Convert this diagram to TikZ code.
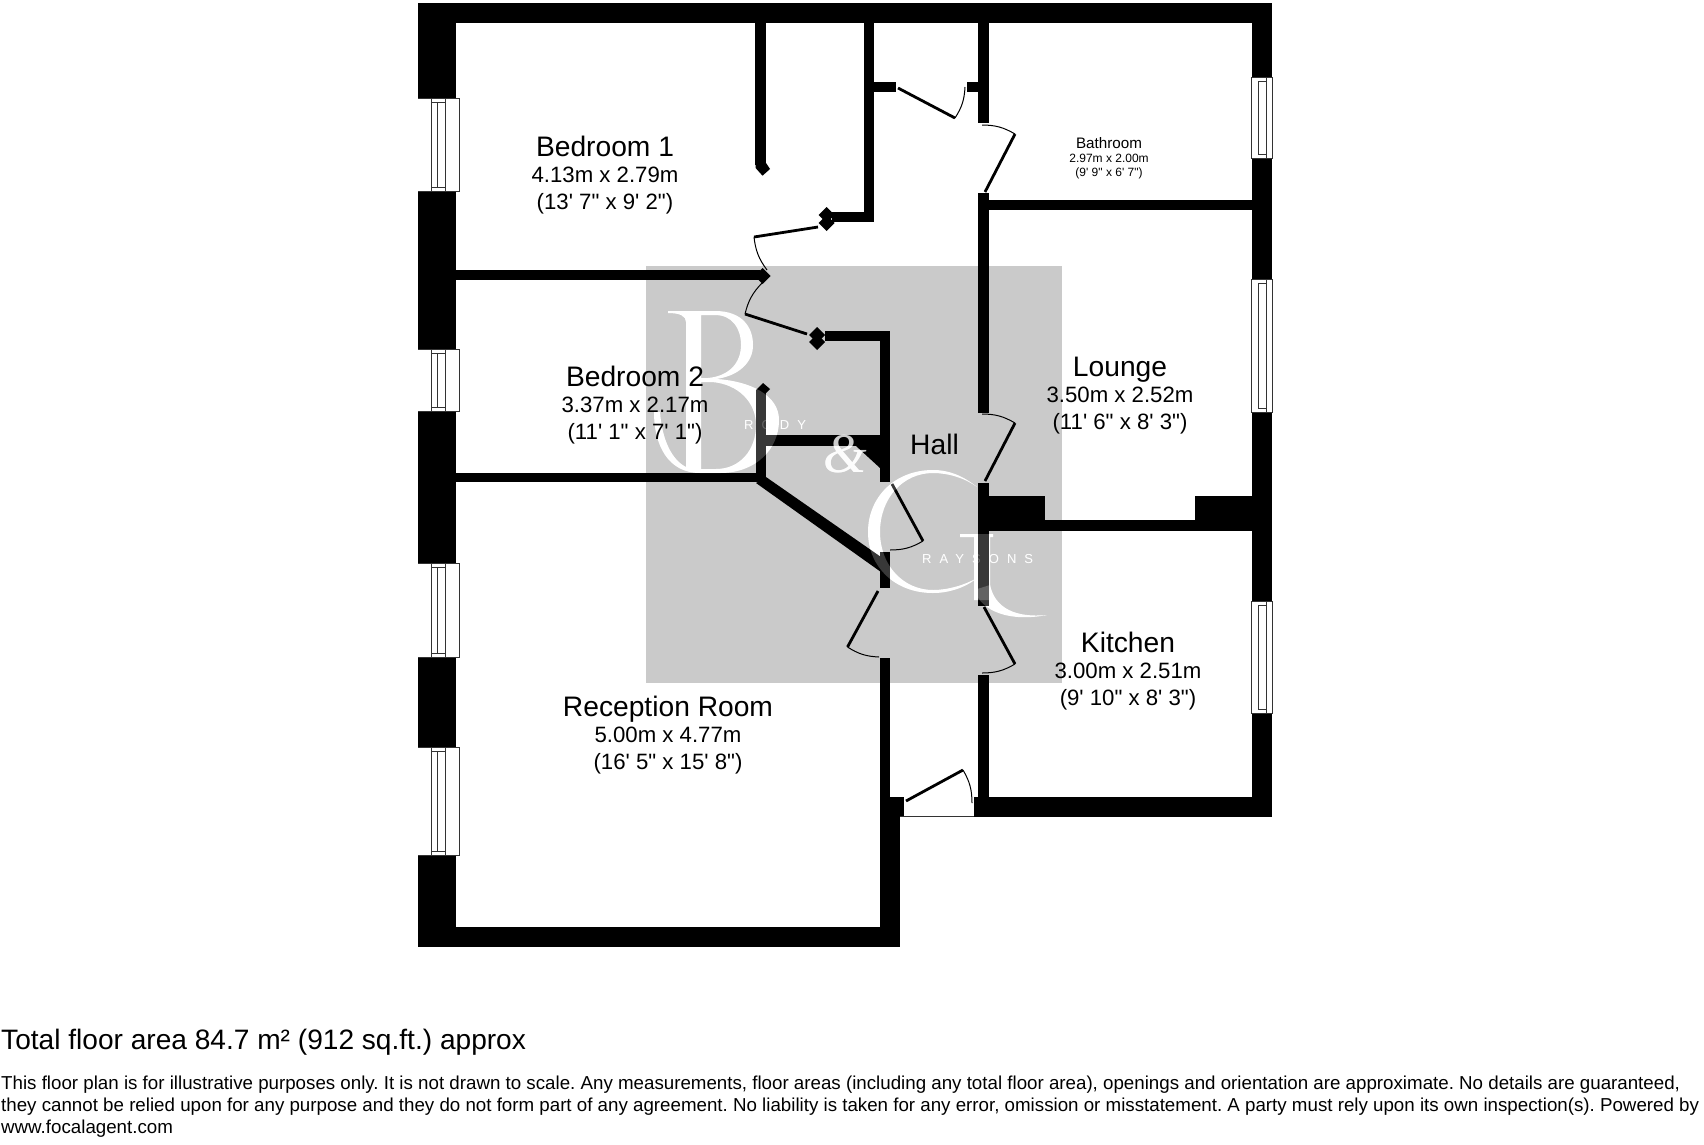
\documentclass[tikz,border=0pt]{standalone}
\usepackage{fontspec}
\usetikzlibrary{positioning}
\newfontfamily\planfont{Liberation Sans}
\newfontfamily\serifmark{Liberation Serif}
\newfontfamily\spacedmark[LetterSpace=62]{Liberation Sans}
\definecolor{markgrey}{HTML}{CACACA}
\frenchspacing
\tikzstyle{wall}=[fill=black]
\tikzstyle{leaf}=[draw=black,line width=2.8pt]
\tikzstyle{swing}=[draw=black,line width=1pt]
\tikzstyle{pane}=[draw=black!80,line width=.9pt]
\tikzstyle{roomname}=[inner sep=0pt,text=black,text height=20pt,text depth=0pt,font=\planfont\fontsize{28.2}{30}\selectfont]
\tikzstyle{roomdim}=[inner sep=0pt,text=black,text height=15.5pt,text depth=0pt,font=\planfont\fontsize{22.2}{24}\selectfont]
\tikzstyle{bathname}=[inner sep=0pt,text=black,text height=11pt,text depth=0pt,font=\planfont\fontsize{15.2}{17}\selectfont]
\tikzstyle{bathdim}=[inner sep=0pt,text=black,text height=8.5pt,text depth=0pt,font=\planfont\fontsize{12}{14}\selectfont]
\tikzstyle{markword}=[inner sep=0pt,anchor=west,text=white,font=\spacedmark\fontsize{13}{14}\selectfont]
\newcommand{\wallend}[2]{\fill[wall] (#1-8,#2) -- (#1,#2-8) -- (#1+8,#2) -- (#1,#2+8) -- cycle;}
\newcommand{\markletters}[1]{%
  % B
  \fill[white,even odd rule] (668,311) -- (715,311) .. controls (743,311) and (753,328) .. (753,345) .. controls (753,363) and (738,376) .. (716,379)
    .. controls (750,381) and (779,395) .. (779,420) .. controls (779,450) and (755,473) .. (720,473)
    -- (700,473) .. controls (668,473) and (654,445) .. (654,412) -- (660,412)
    .. controls (662,440) and (672,460) .. (686,467) -- (686,322) .. controls (686,316) and (680,313) .. (668,313) -- cycle
    (701,315) -- (715,315) .. controls (732,315) and (741,328) .. (741,345) .. controls (741,362) and (730,376) .. (708,378) -- (701,378) -- cycle
    (701,382) -- (712,382) .. controls (738,384) and (756,402) .. (756,425) .. controls (756,450) and (740,469) .. (716,469) -- (701,469) -- cycle;
  \node[inner sep=0pt,text=white,text opacity=.8,font=\serifmark\itshape\fontsize{56}{60}\selectfont] (markamp#1) at (845,454) {\&};
  % G
  \fill[white] (977,487) .. controls (962,475) and (948,470) .. (933,470) .. controls (895,470) and (868,497) .. (868,532) .. controls (868,567) and (895,593) .. (933,593) .. controls (948,593) and (965,588) .. (977,578) .. controls (965,585) and (948,590) .. (933,590) .. controls (903,590) and (880,565) .. (880,532) .. controls (880,498) and (903,473) .. (933,473) .. controls (948,473) and (965,478) .. (977,487) -- cycle;
  \fill[white] (960,534) rectangle (993,537) (974,537) rectangle (990,600);
  \fill[white] (974,590) .. controls (982,612) and (1010,622) .. (1047,615) .. controls (1015,618) and (995,608) .. (990,585) -- cycle;
  \node[markword] (markrody#1) at (744,425) {RODY};
  \node[markword] (markraysons#1) at (922,559) {RAYSONS};
}

\begin{document}
\begin{tikzpicture}[x=1pt,y=-1pt,node distance=27pt,on grid]
  \useasboundingbox (0,0) rectangle (1704,1144);
  \fill[white] (0,0) rectangle (1704,1144);

  % watermark
  \fill[markgrey] (646,266) rectangle (1062,683);
  \markletters{a}

  % walls
  \foreach \xa/\ya/\xb/\yb in {418/3/1272/23, 418/3/456/947, 418/927/900/947, 1252/3/1272/817,
    974/797/1272/817, 880/797/904/817, 880/817/900/947, 880/658/890/797,
    456/270/760/280, 456/473/766/482, 755/23/766/165, 864/23/874/222, 832/212/874/222,
    874/82/896/92, 967/82/978/92, 978/23/989/123, 978/193/989/413, 989/200/1252/210,
    978/483/989/606, 989/496/1045/531, 1045/520/1252/531, 1195/496/1252/520, 978/675/989/797,
    825/331/890/341, 880/331/890/482, 880/552/890/588, 756/393/766/482, 766/435/880/446}
    \fill[wall] (\xa,\ya) rectangle (\xb,\yb);
  \fill[wall] (856,446) -- (880,468) -- (880,446) -- cycle;
  \fill[wall] (766,477) -- (881,557) -- (881,572) -- (756,483) -- cycle;
  \fill[wall] (755.6,165) -- (755.6,168) -- (762.5,175.7) -- (770,169) -- (766,163) -- cycle;
  \fill[wall] (756,393) -- (756,390) -- (763,383) -- (770,389) -- (766,393) -- cycle;
  \wallend{762.5}{276}
  \wallend{826.5}{215}
  \wallend{826.5}{223}
  \wallend{817}{335}
  \wallend{817}{342}

  % windows
  \foreach \ya/\yb in {98/191, 349/411, 563/657, 747/855} {
    \fill[white] (418,\ya) rectangle (459,\yb);
    \draw[pane] (418,\ya) -- (459,\ya) -- (459,\yb) -- (418,\yb);
    \draw[pane] (431,\ya) -- (431,\yb) (445,\ya) -- (445,\yb) (437,\ya+4) -- (437,\yb-4);
    \draw[pane] (431,\ya+4) -- (445,\ya+4) (431,\yb-4) -- (445,\yb-4);
  }
  \foreach \ya/\yb in {77/158, 279/412, 601/713} {
    \fill[white] (1251,\ya) rectangle (1272,\yb);
    \draw[pane] (1251,\ya) rectangle (1272,\yb);
    \draw[pane] (1258,\ya+4) -- (1258,\yb-4) (1266,\ya) -- (1266,\yb);
    \draw[pane] (1258,\ya+4) -- (1266,\ya+4) (1258,\yb-4) -- (1266,\yb-4);
  }

  % entrance sill
  \draw[pane] (900,816) -- (974,816);

  % doors
  \foreach \hx/\hy/\tx/\ty/\ex/\ey/\bnd in {898/88/955/118/965/87/-15, 985/192/1015/134/982/125/-15,
    985/481/1015/423/982/414/-15, 984/607/1015/664/982/673/15, 878/591/847.5/647/879/657/-15,
    892/484/923/541/890/550/15, 818/227/754/237/767/270/-15, 807/334/745/314/762/283/15,
    906/801/963/770/972/803/15} {
    \draw[leaf] (\hx,\hy) -- (\tx,\ty);
    \draw[swing] (\tx,\ty) to[bend left=\bnd] (\ex,\ey);
  }

  % watermark showing through the walls
  \begin{scope}[opacity=.22]
    \clip (646,266) rectangle (1062,683);
    \markletters{b}
  \end{scope}

  % rooms
  \node[roomname] (bed1) at (605,146) {Bedroom 1};
  \node[roomdim, below=29pt of bed1] (bed1m) {4.13m x 2.79m};
  \node[roomdim, below=of bed1m] (bed1i) {(13' 7" x 9' 2")};
  \node[roomname] (bed2) at (635,376) {Bedroom 2};
  \node[roomdim, below=29pt of bed2] (bed2m) {3.37m x 2.17m};
  \node[roomdim, below=of bed2m] (bed2i) {(11' 1" x 7' 1")};
  \node[roomname] (recep) at (668,706) {Reception Room};
  \node[roomdim, below=29pt of recep] (recepm) {5.00m x 4.77m};
  \node[roomdim, below=of recepm] (recepi) {(16' 5" x 15' 8")};
  \node[roomname] (lounge) at (1120,366) {Lounge};
  \node[roomdim, below=29pt of lounge] (loungem) {3.50m x 2.52m};
  \node[roomdim, below=of loungem] (loungei) {(11' 6" x 8' 3")};
  \node[roomname] (kitchen) at (1128,642) {Kitchen};
  \node[roomdim, below=29pt of kitchen] (kitchenm) {3.00m x 2.51m};
  \node[roomdim, below=of kitchenm] (kitcheni) {(9' 10" x 8' 3")};
  \node[roomname] (hall) at (934.5,444) {Hall};
  \node[bathname] (bath) at (1109,143) {Bathroom};
  \node[bathdim, below=15pt of bath] (bathm) {2.97m x 2.00m};
  \node[bathdim, below=14pt of bathm] (bathi) {(9' 9" x 6' 7")};

  % footer
  \node[inner sep=0pt,anchor=west,font=\planfont\fontsize{28.1}{30}\selectfont] (total) at (1,1042) {Total floor area 84.7 m² (912 sq.ft.) approx};
  \node[inner sep=0pt,anchor=north west,align=left,font=\planfont\fontsize{18.73}{21.7}\selectfont] (note) at (1,1076) {This floor plan is for illustrative purposes only. It is not drawn to scale. Any measurements, floor areas (including any total floor area), openings and orientation are approximate. No details are guaranteed,\\
    they cannot be relied upon for any purpose and they do not form part of any agreement. No liability is taken for any error, omission or misstatement. A party must rely upon its own inspection(s). Powered by\\
    www.focalagent.com};
\end{tikzpicture}
\end{document}
